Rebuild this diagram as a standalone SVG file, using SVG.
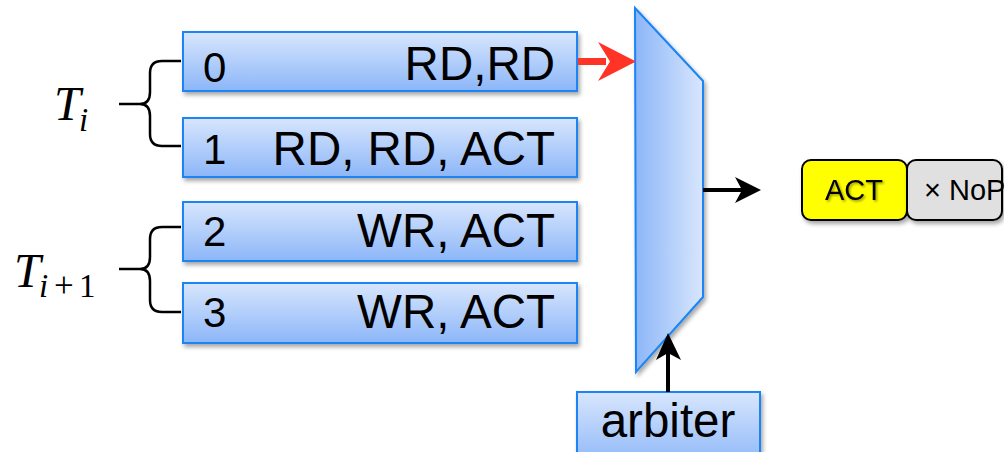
<svg xmlns="http://www.w3.org/2000/svg" width="1004" height="452" viewBox="0 0 1004 452">
<style>
.box{fill:url(#gv);stroke:#1a84f5;stroke-width:2;filter:url(#sh)}
.t{font-family:"Liberation Sans",Arial,sans-serif;fill:#000}
.big{font-size:47.5px}
.num{font-size:42px}
.m{font-family:"Liberation Serif","Times New Roman",serif;font-style:italic;fill:#000}
.br{fill:none;stroke:#000;stroke-width:2.5}
.k{stroke:#000;stroke-width:4;fill:none}
</style>
<defs>
<linearGradient id="gv" x1="0" y1="0" x2="0" y2="1">
<stop offset="0" stop-color="#d8e6fd"/>
<stop offset="1" stop-color="#8cb6f8"/>
</linearGradient>
<linearGradient id="gh" x1="0" y1="0" x2="1" y2="0">
<stop offset="0" stop-color="#8cb6f8"/>
<stop offset="1" stop-color="#d8e6fd"/>
</linearGradient>
<filter id="sh" x="-10%" y="-20%" width="130%" height="150%">
<feDropShadow dx="2" dy="3" stdDeviation="2" flood-color="#000" flood-opacity="0.35"/>
</filter>
<filter id="ts" x="-10%" y="-20%" width="130%" height="150%">
<feDropShadow dx="1.5" dy="1.5" stdDeviation="1" flood-color="#000" flood-opacity="0.4"/>
</filter>
</defs>
<rect width="1004" height="452" fill="#fff"/>

<g id="labels">
<text class="m" x="54" y="120" font-size="48">T</text>
<text class="m" x="79" y="131" font-size="33">i</text>
<text class="m" x="14" y="287" font-size="48">T</text>
<text class="m" y="297" font-size="33"><tspan x="39">i</tspan><tspan x="54" font-style="normal" font-size="35">+</tspan><tspan x="79" font-style="normal">1</tspan></text>
</g>

<g id="braces">
<path class="br" d="M181,61 H162 Q150,61 150,73 V92 Q150,104 140,104 H119 M140,104 Q150,104 150,116 V134 Q150,146 162,146 H181"/>
<path class="br" d="M181,227 H162 Q150,227 150,239 V257 Q150,269 140,269 H119 M140,269 Q150,269 150,281 V300 Q150,312 162,312 H181"/>
</g>

<g id="q0">
<rect class="box" x="183" y="32" width="394" height="59"/>
<text class="t num" x="203" y="82">0</text>
<text class="t big" x="555" y="80" text-anchor="end">RD,RD</text>
</g>
<g id="q1">
<rect class="box" x="183" y="118" width="394" height="59"/>
<text class="t num" x="203" y="164">1</text>
<text class="t big" x="555" y="165" text-anchor="end">RD, RD, ACT</text>
</g>
<g id="q2">
<rect class="box" x="183" y="202" width="394" height="59"/>
<text class="t num" x="203" y="246">2</text>
<text class="t big" x="555" y="247" text-anchor="end">WR, ACT</text>
</g>
<g id="q3">
<rect class="box" x="183" y="283" width="394" height="60"/>
<text class="t num" x="203" y="327">3</text>
<text class="t big" x="555" y="328" text-anchor="end">WR, ACT</text>
</g>

<g id="mux">
<polygon points="635,8 703,81 703,297 636,372" fill="url(#gh)" stroke="#1a84f5" stroke-width="2" filter="url(#sh)"/>
</g>

<g id="arbiter">
<rect class="box" x="577" y="392" width="183" height="75"/>
<text class="t big" x="668" y="437" text-anchor="middle">arbiter</text>
</g>

<g id="act">
<rect x="802" y="160" width="105" height="60" rx="9" fill="#ffff00" stroke="#000" stroke-width="2" filter="url(#sh)"/>
<text class="t" x="854" y="200" font-size="29" text-anchor="middle" filter="url(#ts)">ACT</text>
</g>
<g id="nop">
<rect x="907" y="160" width="95" height="60" rx="9" fill="#e0e0e0" stroke="#000" stroke-width="2" filter="url(#sh)"/>
<text class="t" x="924" y="200" font-size="29">× NoP</text>
</g>

<g id="connectors">
<line x1="578" y1="61.5" x2="606" y2="61.5" stroke="#ff3326" stroke-width="7"/>
<polygon points="598,42 636,61.5 598,81 610,61.5" fill="#ff3326"/>
<line class="k" x1="703" y1="190" x2="746" y2="190"/>
<polygon points="735,177 761,190 735,203 742,190" fill="#000"/>
<line class="k" x1="668" y1="392" x2="668" y2="348"/>
<polygon points="656,360 668,333 681,360 668,353" fill="#000"/>
</g>
</svg>
